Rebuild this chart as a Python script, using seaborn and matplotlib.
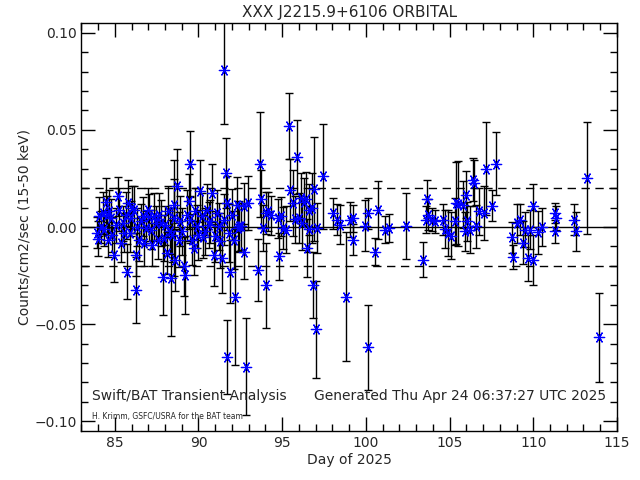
"""Swift/BAT orbital light curve for XXX J2215.9+6106, redrawn with seaborn."""

import matplotlib
matplotlib.use("Agg")
import matplotlib.pyplot as plt
import pandas as pd
import seaborn as sns
from matplotlib.ticker import MultipleLocator, FuncFormatter

TITLE = "XXX J2215.9+6106 ORBITAL"
X_LABEL = "Day of 2025"
Y_LABEL = "Counts/cm2/sec (15-50 keV)"
NOTE_LEFT = "Swift/BAT Transient Analysis"
NOTE_RIGHT = "Generated Thu Apr 24 06:37:27 UTC 2025"
NOTE_SMALL = "H. Krimm, GSFC/USRA for the BAT team"

# day of year, rate, 1-sigma error
days = [
    83.95, 84.02, 84.07, 84.15, 84.27, 84.35, 84.47, 84.52, 84.57, 84.68,
    84.77, 84.85, 84.97, 85.05, 85.17, 85.27, 85.35, 85.47, 85.57, 85.65,
    85.77, 85.76, 85.90, 85.97, 86.05, 86.17, 86.26, 86.28, 86.35, 86.46,
    86.55, 86.66, 86.75, 86.86, 86.96, 87.05, 87.16, 87.25, 87.36, 87.45,
    87.56, 87.65, 87.76, 87.86, 87.92, 88.02, 88.12, 88.20, 88.30, 88.35,
    88.42, 88.51, 88.55, 88.61, 88.71, 88.81, 88.90, 89.00, 89.11, 89.21,
    89.30, 89.41, 89.47, 89.51, 89.61, 89.71, 89.80, 89.90, 90.00, 90.10,
    90.20, 90.30, 90.40, 90.50, 90.60, 90.70, 90.80, 90.90, 91.00, 91.10,
    91.20, 91.30, 91.40, 91.50, 91.55, 91.64, 91.70, 91.73, 91.80, 91.90,
    92.00, 92.10, 92.19, 92.30, 92.35, 92.45, 92.55, 92.75, 92.73, 92.83,
    92.95, 93.55, 93.69, 93.75, 93.85, 94.03, 94.05, 94.18, 94.35, 94.74,
    94.84, 94.94, 95.04, 95.20, 95.43, 95.48, 95.63, 95.75, 95.88, 96.01,
    96.10, 96.20, 96.30, 96.40, 96.48, 96.58, 96.63, 96.77, 96.87, 96.91,
    97.00, 97.07, 97.43, 98.06, 98.26, 98.46, 98.82, 99.06, 99.26, 99.24,
    99.95, 100.10, 100.15, 100.55, 100.75, 101.15, 101.41, 102.40, 103.43, 103.60,
    103.65, 103.74, 103.94, 104.14, 104.60, 104.73, 104.90, 105.10, 105.35, 105.40,
    105.52, 105.80, 105.90, 106.00, 106.06, 106.20, 106.43, 106.47, 106.57, 106.77,
    107.07, 107.17, 107.52, 107.80, 108.71, 108.81, 109.00, 109.20, 109.40, 109.50,
    109.70, 109.80, 109.96, 110.00, 110.30, 110.50, 111.28, 111.33, 111.28, 112.43,
    112.55, 113.23, 113.90,
]
rates = [
    -0.0030, -0.0060, 0.0055, 0.0000, 0.0072, -0.0010, 0.0130, 0.0060, -0.0065, 0.0080,
    0.0046, -0.0040, -0.0143, 0.0010, 0.0158, 0.0089, -0.0080, 0.0020, -0.0030, 0.0060,
    0.0124, -0.0229, -0.0030, 0.0046, 0.0100, 0.0089, -0.0143, -0.0323, 0.0000, -0.0065,
    0.0030, 0.0055, -0.0080, -0.0005, 0.0089, 0.0050, -0.0014, -0.0090, 0.0055, 0.0020,
    -0.0065, 0.0064, 0.0020, -0.0255, -0.0057, 0.0010, -0.0134, 0.0080, -0.0020, -0.0263,
    -0.0040, 0.0115, 0.0046, -0.0169, 0.0210, -0.0065, 0.0030, -0.0022, -0.0203, -0.0246,
    0.0060, 0.0132, 0.0325, 0.0038, -0.0065, -0.0108, 0.0080, 0.0003, -0.0040, 0.0184,
    0.0055, -0.0050, -0.0022, 0.0089, 0.0010, 0.0029, 0.0175, -0.0143, -0.0048, 0.0072,
    0.0003, -0.0070, -0.0160, 0.0038, 0.0810, 0.0278, 0.0124, -0.0670, -0.0030, -0.0229,
    0.0064, -0.0065, -0.0360, 0.0115, -0.0005, 0.0003, 0.0003, 0.0107, -0.0126, -0.0720,
    0.0124, -0.0220, 0.0322, 0.0144, -0.0005, -0.0300, 0.0072, 0.0080, 0.0060, 0.0046,
    -0.0151, 0.0055, -0.0005, -0.0014, 0.0520, 0.0190, 0.0124, 0.0040, 0.0360, 0.0046,
    0.0150, 0.0020, 0.0130, 0.0144, -0.0108, 0.0090, -0.0010, 0.0098, -0.0300, 0.0196,
    -0.0526, -0.0005, 0.0261, 0.0072, 0.0038, 0.0012, -0.0358, 0.0038, 0.0046, -0.0065,
    0.0007, -0.0619, 0.0072, -0.0126, 0.0089, -0.0014, -0.0005, 0.0003, -0.0169, 0.0038,
    0.0144, 0.0064, 0.0038, 0.0030, 0.0038, -0.0010, -0.0031, -0.0045, 0.0030, 0.0124,
    0.0120, 0.0115, -0.0022, 0.0167, 0.0030, -0.0014, 0.0244, 0.0227, 0.0003, 0.0081,
    0.0072, 0.0300, 0.0110, 0.0327, -0.0052, -0.0155, 0.0020, 0.0038, -0.0080, -0.0014,
    -0.0160, -0.0014, 0.0110, -0.0169, -0.0028, 0.0000, 0.0072, 0.0046, -0.0022, 0.0038,
    -0.0022, 0.0253, -0.0567,
]
errors = [
    0.008, 0.009, 0.010, 0.008, 0.011, 0.009, 0.012, 0.010, 0.009, 0.011,
    0.010, 0.009, 0.014, 0.009, 0.010, 0.011, 0.010, 0.009, 0.010, 0.012,
    0.012, 0.014, 0.010, 0.009, 0.011, 0.012, 0.011, 0.017, 0.010, 0.011,
    0.009, 0.010, 0.012, 0.009, 0.011, 0.012, 0.010, 0.011, 0.012, 0.009,
    0.010, 0.011, 0.012, 0.020, 0.012, 0.010, 0.011, 0.013, 0.012, 0.030,
    0.014, 0.013, 0.030, 0.016, 0.019, 0.014, 0.013, 0.012, 0.015, 0.020,
    0.013, 0.014, 0.017, 0.012, 0.013, 0.014, 0.012, 0.011, 0.013, 0.016,
    0.012, 0.011, 0.012, 0.013, 0.012, 0.011, 0.015, 0.016, 0.013, 0.012,
    0.012, 0.014, 0.018, 0.013, 0.028, 0.018, 0.014, 0.019, 0.015, 0.016,
    0.013, 0.015, 0.035, 0.014, 0.012, 0.013, 0.012, 0.012, 0.014, 0.025,
    0.014, 0.016, 0.027, 0.015, 0.012, 0.022, 0.011, 0.010, 0.010, 0.010,
    0.012, 0.010, 0.011, 0.012, 0.017, 0.016, 0.017, 0.012, 0.019, 0.013,
    0.013, 0.014, 0.012, 0.014, 0.015, 0.013, 0.012, 0.018, 0.017, 0.027,
    0.025, 0.013, 0.027, 0.008, 0.008, 0.010, 0.033, 0.009, 0.007, 0.008,
    0.013, 0.022, 0.008, 0.007, 0.015, 0.007, 0.007, 0.017, 0.009, 0.007,
    0.010, 0.008, 0.006, 0.006, 0.008, 0.010, 0.012, 0.012, 0.012, 0.021,
    0.022, 0.012, 0.010, 0.012, 0.010, 0.012, 0.011, 0.012, 0.011, 0.012,
    0.014, 0.024, 0.008, 0.016, 0.008, 0.006, 0.010, 0.008, 0.011, 0.009,
    0.012, 0.010, 0.011, 0.013, 0.011, 0.010, 0.005, 0.006, 0.006, 0.008,
    0.010, 0.029, 0.023,
]

df = pd.DataFrame({"day": days, "rate": rates, "err": errors})

sns.set_style("ticks")
plt.rcParams["font.family"] = ["DejaVu Sans"]
plt.rcParams["font.size"] = 10

fig = plt.figure(figsize=(6.4, 4.8), dpi=100)
ax = fig.add_axes([0.127, 0.102, 0.837, 0.850])

ax.axhline(0.0, color="black", lw=1.0, zorder=1)
ax.axhline(0.02, color="black", lw=1.0, ls=(0, (6, 4)), zorder=1)
ax.axhline(-0.02, color="black", lw=1.0, ls=(0, (6, 4)), zorder=1)

ax.errorbar(df["day"], df["rate"], yerr=df["err"], fmt="none",
            ecolor="black", elinewidth=1.0, capsize=3, capthick=1.0, zorder=2)
sns.scatterplot(data=df, x="day", y="rate", ax=ax, marker=(6, 2, 90),
                s=55, color="blue", edgecolor="blue", linewidth=0.9, zorder=3)

ax.set_xlim(83, 115)
ax.set_ylim(-0.105, 0.105)
ax.xaxis.set_major_locator(MultipleLocator(5))
ax.xaxis.set_minor_locator(MultipleLocator(1))
ax.yaxis.set_major_locator(MultipleLocator(0.05))
ax.yaxis.set_minor_locator(MultipleLocator(0.01))
ax.yaxis.set_major_formatter(FuncFormatter(lambda v, _: f"{v:.2f}".replace("-", "\u2212")))
ax.tick_params(which="both", direction="in", top=True, right=True, color="black")
ax.tick_params(which="major", length=10, width=1)
ax.tick_params(which="minor", length=5, width=1)
for spine in ax.spines.values():
    spine.set_visible(True)
    spine.set_color("black")
    spine.set_linewidth(1.0)

ax.set_xlabel(X_LABEL, labelpad=2)
ax.set_ylabel(Y_LABEL, labelpad=2)
ax.set_title(TITLE, fontsize=11, pad=4)

ax.text(0.02, 0.075, NOTE_LEFT, transform=ax.transAxes, fontsize=10)
ax.text(0.98, 0.075, NOTE_RIGHT, transform=ax.transAxes, fontsize=10, ha="right")
ax.text(0.02, 0.03, NOTE_SMALL, transform=ax.transAxes, fontsize=5.5)

fig.savefig("out.png", dpi=100)
plt.close(fig)
